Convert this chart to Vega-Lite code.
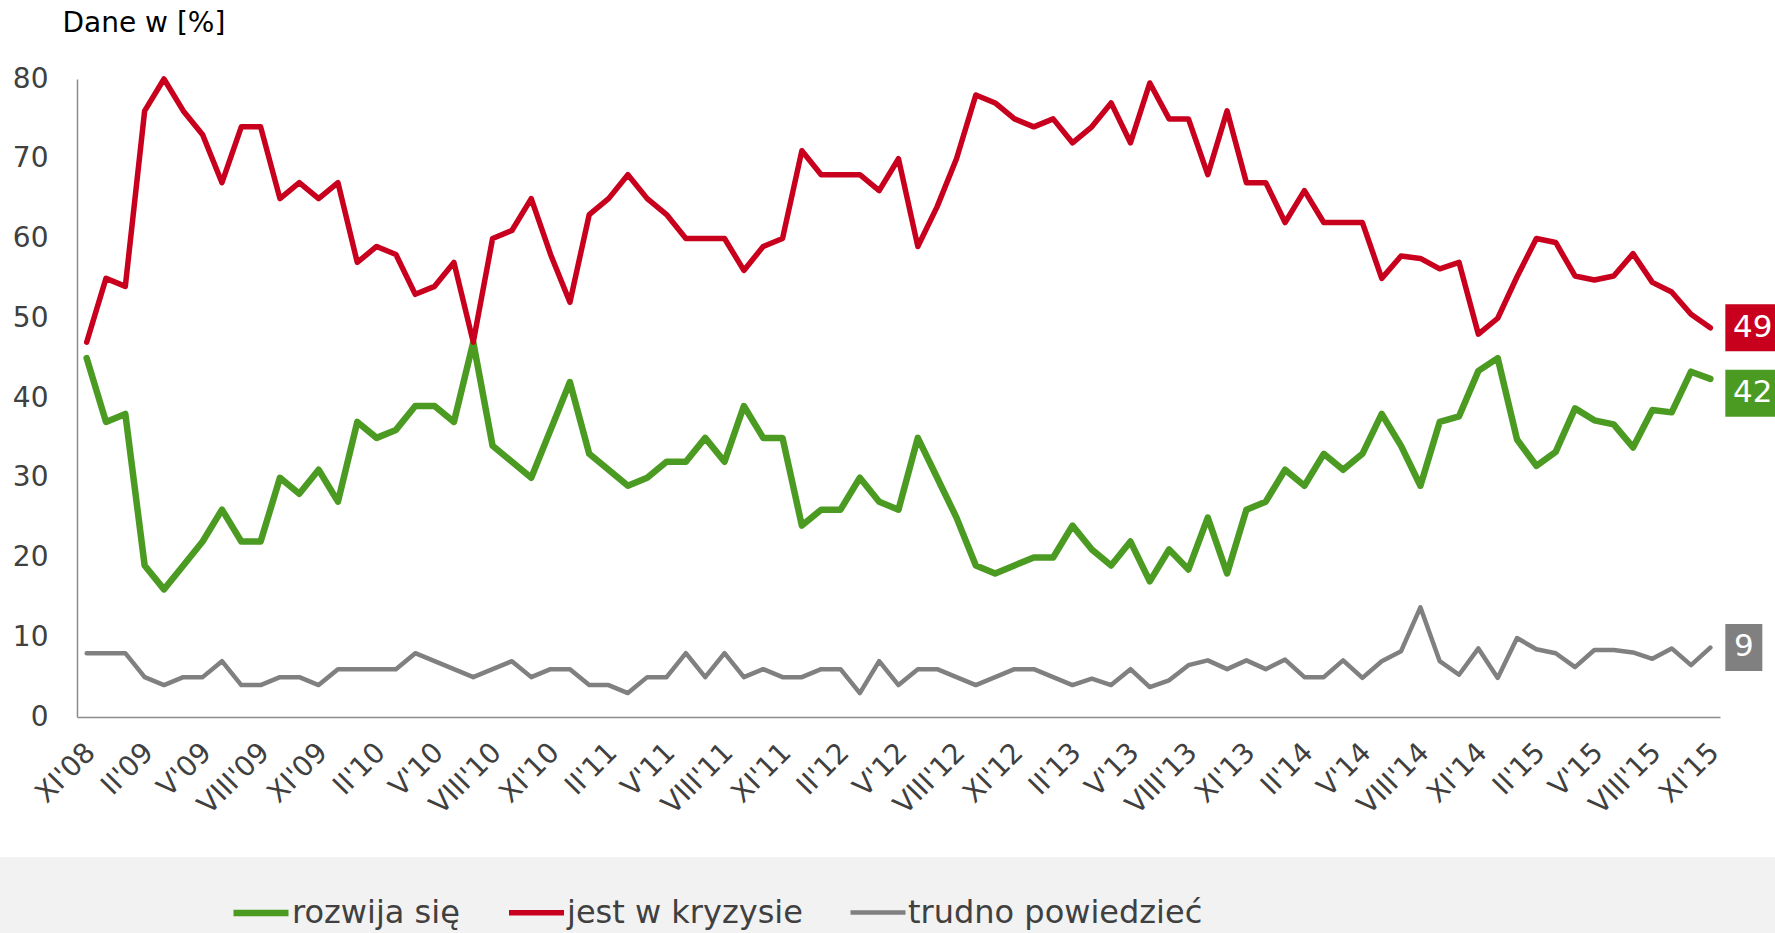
{
  "$schema": "https://vega.github.io/schema/vega-lite/v6.json",
  "width": 1775,
  "height": 857,
  "autosize": {"type": "none"},
  "padding": {"left": 0, "top": 0, "right": 0, "bottom": 76},
  "background": "#f2f2f2",
  "config": {"view": {"fill": "white", "stroke": null}, "font": "DejaVu Sans"},
  "datasets": {
    "series": [
      {"m": "XI'08", "rozwija się": 45, "jest w kryzysie": 47, "trudno powiedzieć": 8},
      {"m": "XII'08", "rozwija się": 37, "jest w kryzysie": 55, "trudno powiedzieć": 8},
      {"m": "I'09", "rozwija się": 38, "jest w kryzysie": 54, "trudno powiedzieć": 8},
      {"m": "II'09", "rozwija się": 19, "jest w kryzysie": 76, "trudno powiedzieć": 5},
      {"m": "III'09", "rozwija się": 16, "jest w kryzysie": 80, "trudno powiedzieć": 4},
      {"m": "IV'09", "rozwija się": 19, "jest w kryzysie": 76, "trudno powiedzieć": 5},
      {"m": "V'09", "rozwija się": 22, "jest w kryzysie": 73, "trudno powiedzieć": 5},
      {"m": "VI'09", "rozwija się": 26, "jest w kryzysie": 67, "trudno powiedzieć": 7},
      {"m": "VII'09", "rozwija się": 22, "jest w kryzysie": 74, "trudno powiedzieć": 4},
      {"m": "VIII'09", "rozwija się": 22, "jest w kryzysie": 74, "trudno powiedzieć": 4},
      {"m": "IX'09", "rozwija się": 30, "jest w kryzysie": 65, "trudno powiedzieć": 5},
      {"m": "X'09", "rozwija się": 28, "jest w kryzysie": 67, "trudno powiedzieć": 5},
      {"m": "XI'09", "rozwija się": 31, "jest w kryzysie": 65, "trudno powiedzieć": 4},
      {"m": "XII'09", "rozwija się": 27, "jest w kryzysie": 67, "trudno powiedzieć": 6},
      {"m": "I'10", "rozwija się": 37, "jest w kryzysie": 57, "trudno powiedzieć": 6},
      {"m": "II'10", "rozwija się": 35, "jest w kryzysie": 59, "trudno powiedzieć": 6},
      {"m": "III'10", "rozwija się": 36, "jest w kryzysie": 58, "trudno powiedzieć": 6},
      {"m": "IV'10", "rozwija się": 39, "jest w kryzysie": 53, "trudno powiedzieć": 8},
      {"m": "V'10", "rozwija się": 39, "jest w kryzysie": 54, "trudno powiedzieć": 7},
      {"m": "VI'10", "rozwija się": 37, "jest w kryzysie": 57, "trudno powiedzieć": 6},
      {"m": "VII'10", "rozwija się": 47, "jest w kryzysie": 47, "trudno powiedzieć": 5},
      {"m": "VIII'10", "rozwija się": 34, "jest w kryzysie": 60, "trudno powiedzieć": 6},
      {"m": "IX'10", "rozwija się": 32, "jest w kryzysie": 61, "trudno powiedzieć": 7},
      {"m": "X'10", "rozwija się": 30, "jest w kryzysie": 65, "trudno powiedzieć": 5},
      {"m": "XI'10", "rozwija się": 36, "jest w kryzysie": 58, "trudno powiedzieć": 6},
      {"m": "XII'10", "rozwija się": 42, "jest w kryzysie": 52, "trudno powiedzieć": 6},
      {"m": "I'11", "rozwija się": 33, "jest w kryzysie": 63, "trudno powiedzieć": 4},
      {"m": "II'11", "rozwija się": 31, "jest w kryzysie": 65, "trudno powiedzieć": 4},
      {"m": "III'11", "rozwija się": 29, "jest w kryzysie": 68, "trudno powiedzieć": 3},
      {"m": "IV'11", "rozwija się": 30, "jest w kryzysie": 65, "trudno powiedzieć": 5},
      {"m": "V'11", "rozwija się": 32, "jest w kryzysie": 63, "trudno powiedzieć": 5},
      {"m": "VI'11", "rozwija się": 32, "jest w kryzysie": 60, "trudno powiedzieć": 8},
      {"m": "VII'11", "rozwija się": 35, "jest w kryzysie": 60, "trudno powiedzieć": 5},
      {"m": "VIII'11", "rozwija się": 32, "jest w kryzysie": 60, "trudno powiedzieć": 8},
      {"m": "IX'11", "rozwija się": 39, "jest w kryzysie": 56, "trudno powiedzieć": 5},
      {"m": "X'11", "rozwija się": 35, "jest w kryzysie": 59, "trudno powiedzieć": 6},
      {"m": "XI'11", "rozwija się": 35, "jest w kryzysie": 60, "trudno powiedzieć": 5},
      {"m": "XII'11", "rozwija się": 24, "jest w kryzysie": 71, "trudno powiedzieć": 5},
      {"m": "I'12", "rozwija się": 26, "jest w kryzysie": 68, "trudno powiedzieć": 6},
      {"m": "II'12", "rozwija się": 26, "jest w kryzysie": 68, "trudno powiedzieć": 6},
      {"m": "III'12", "rozwija się": 30, "jest w kryzysie": 68, "trudno powiedzieć": 3},
      {"m": "IV'12", "rozwija się": 27, "jest w kryzysie": 66, "trudno powiedzieć": 7},
      {"m": "V'12", "rozwija się": 26, "jest w kryzysie": 70, "trudno powiedzieć": 4},
      {"m": "VI'12", "rozwija się": 35, "jest w kryzysie": 59, "trudno powiedzieć": 6},
      {"m": "VII'12", "rozwija się": 30, "jest w kryzysie": 64, "trudno powiedzieć": 6},
      {"m": "VIII'12", "rozwija się": 25, "jest w kryzysie": 70, "trudno powiedzieć": 5},
      {"m": "IX'12", "rozwija się": 19, "jest w kryzysie": 78, "trudno powiedzieć": 4},
      {"m": "X'12", "rozwija się": 18, "jest w kryzysie": 77, "trudno powiedzieć": 5},
      {"m": "XI'12", "rozwija się": 19, "jest w kryzysie": 75, "trudno powiedzieć": 6},
      {"m": "XII'12", "rozwija się": 20, "jest w kryzysie": 74, "trudno powiedzieć": 6},
      {"m": "I'13", "rozwija się": 20, "jest w kryzysie": 75, "trudno powiedzieć": 5},
      {"m": "II'13", "rozwija się": 24, "jest w kryzysie": 72, "trudno powiedzieć": 4},
      {"m": "III'13", "rozwija się": 21, "jest w kryzysie": 74, "trudno powiedzieć": 4.8},
      {"m": "IV'13", "rozwija się": 19, "jest w kryzysie": 77, "trudno powiedzieć": 4},
      {"m": "V'13", "rozwija się": 22, "jest w kryzysie": 72, "trudno powiedzieć": 6},
      {"m": "VI'13", "rozwija się": 17, "jest w kryzysie": 79.5, "trudno powiedzieć": 3.75},
      {"m": "VII'13", "rozwija się": 21, "jest w kryzysie": 75, "trudno powiedzieć": 4.6},
      {"m": "VIII'13", "rozwija się": 18.5, "jest w kryzysie": 75, "trudno powiedzieć": 6.5},
      {"m": "IX'13", "rozwija się": 25, "jest w kryzysie": 68, "trudno powiedzieć": 7.1},
      {"m": "X'13", "rozwija się": 18, "jest w kryzysie": 76, "trudno powiedzieć": 6},
      {"m": "XI'13", "rozwija się": 26, "jest w kryzysie": 67, "trudno powiedzieć": 7.1},
      {"m": "XII'13", "rozwija się": 27, "jest w kryzysie": 67, "trudno powiedzieć": 6},
      {"m": "I'14", "rozwija się": 31, "jest w kryzysie": 62, "trudno powiedzieć": 7.2},
      {"m": "II'14", "rozwija się": 29, "jest w kryzysie": 66, "trudno powiedzieć": 5},
      {"m": "III'14", "rozwija się": 33, "jest w kryzysie": 62, "trudno powiedzieć": 5},
      {"m": "IV'14", "rozwija się": 31, "jest w kryzysie": 62, "trudno powiedzieć": 7.1},
      {"m": "V'14", "rozwija się": 33, "jest w kryzysie": 62, "trudno powiedzieć": 4.9},
      {"m": "VI'14", "rozwija się": 38, "jest w kryzysie": 55, "trudno powiedzieć": 7},
      {"m": "VII'14", "rozwija się": 34, "jest w kryzysie": 57.8, "trudno powiedzieć": 8.25},
      {"m": "VIII'14", "rozwija się": 29, "jest w kryzysie": 57.5, "trudno powiedzieć": 13.75},
      {"m": "IX'14", "rozwija się": 37, "jest w kryzysie": 56.2, "trudno powiedzieć": 7},
      {"m": "X'14", "rozwija się": 37.7, "jest w kryzysie": 57, "trudno powiedzieć": 5.3},
      {"m": "XI'14", "rozwija się": 43.4, "jest w kryzysie": 48, "trudno powiedzieć": 8.6},
      {"m": "XII'14", "rozwija się": 45, "jest w kryzysie": 50, "trudno powiedzieć": 4.9},
      {"m": "I'15", "rozwija się": 34.8, "jest w kryzysie": 55.2, "trudno powiedzieć": 9.9},
      {"m": "II'15", "rozwija się": 31.5, "jest w kryzysie": 60, "trudno powiedzieć": 8.5},
      {"m": "III'15", "rozwija się": 33.25, "jest w kryzysie": 59.5, "trudno powiedzieć": 8},
      {"m": "IV'15", "rozwija się": 38.7, "jest w kryzysie": 55.3, "trudno powiedzieć": 6.25},
      {"m": "V'15", "rozwija się": 37.2, "jest w kryzysie": 54.8, "trudno powiedzieć": 8.4},
      {"m": "VI'15", "rozwija się": 36.7, "jest w kryzysie": 55.3, "trudno powiedzieć": 8.4},
      {"m": "VII'15", "rozwija się": 33.8, "jest w kryzysie": 58.1, "trudno powiedzieć": 8.1},
      {"m": "VIII'15", "rozwija się": 38.5, "jest w kryzysie": 54.5, "trudno powiedzieć": 7.3},
      {"m": "IX'15", "rozwija się": 38.2, "jest w kryzysie": 53.3, "trudno powiedzieć": 8.6},
      {"m": "X'15", "rozwija się": 43.3, "jest w kryzysie": 50.5, "trudno powiedzieć": 6.5},
      {"m": "XI'15", "rozwija się": 42.4, "jest w kryzysie": 48.8, "trudno powiedzieć": 8.7}
    ],
    "labels": [
      {"m": "XI'15", "s": "rozwija się", "lab": "42", "pos": 40.6},
      {"m": "XI'15", "s": "jest w kryzysie", "lab": "49", "pos": 48.8},
      {"m": "XI'15", "s": "trudno powiedzieć", "lab": "9", "pos": 8.73}
    ]
  },
  "layer": [
    {
      "data": {"name": "series"},
      "transform": [{"fold": ["rozwija się", "jest w kryzysie", "trudno powiedzieć"], "as": ["s", "v"]}],
      "mark": {"type": "line", "strokeCap": "round", "strokeJoin": "round"},
      "encoding": {
        "x": {
          "field": "m", "type": "ordinal", "sort": null,
          "scale": {"type": "point", "range": [77, 1720], "padding": 0.5},
          "axis": {
            "values": ["XI'08","II'09","V'09","VIII'09","XI'09","II'10","V'10","VIII'10","XI'10","II'11","V'11","VIII'11","XI'11","II'12","V'12","VIII'12","XI'12","II'13","V'13","VIII'13","XI'13","II'14","V'14","VIII'14","XI'14","II'15","V'15","VIII'15","XI'15"],
            "title": null, "offset": -140, "ticks": false, "tickSize": 0, "grid": false,
            "labelAngle": -45, "labelAlign": "right", "labelBaseline": "middle", "labelPadding": 31, "labelOffset": 4,
            "labelFontSize": 28, "labelColor": "#404040", "labelOverlap": false, "labelBound": false,
            "domainColor": "#8c8c8c", "domainWidth": 1.5
          }
        },
        "y": {
          "field": "v", "type": "quantitative",
          "scale": {"domain": [0, 80], "range": [717, 79], "nice": false},
          "axis": {
            "values": [0, 10, 20, 30, 40, 50, 60, 70, 80],
            "title": "Dane w [%]", "titleAngle": 0, "titleAlign": "left", "titleBaseline": "middle",
            "titleX": -15, "titleY": 23, "titleFontSize": 28, "titleFontWeight": "normal", "titleColor": "#000000",
            "offset": -77, "ticks": false, "tickSize": 0, "grid": false,
            "labelPadding": 29, "labelFontSize": 28, "labelColor": "#404040",
            "domainColor": "#8c8c8c", "domainWidth": 1.5
          }
        },
        "color": {
          "field": "s", "type": "nominal",
          "scale": {"domain": ["rozwija się", "jest w kryzysie", "trudno powiedzieć"], "range": ["#4b9b23", "#c8001e", "#808080"]},
          "legend": {
            "orient": "none", "legendX": 230, "legendY": 882, "direction": "horizontal", "title": null,
            "symbolType": "stroke", "symbolSize": 3025, "symbolStrokeWidth": 7,
            "labelFontSize": 32, "labelColor": "#404040", "labelOffset": 0, "labelLimit": 500, "columnPadding": 38, "padding": 0
          }
        },
        "strokeWidth": {
          "field": "s", "type": "nominal",
          "scale": {"domain": ["rozwija się", "jest w kryzysie", "trudno powiedzieć"], "range": [6.5, 4.5, 4.5]},
          "legend": null
        }
      }
    },
    {
      "data": {"name": "labels"},
      "transform": [{"filter": "datum.s !== 'trudno powiedzieć'"}],
      "mark": {"type": "rect", "width": 55, "height": 47, "xOffset": 42.5},
      "encoding": {
        "x": {"field": "m", "type": "ordinal", "sort": null},
        "y": {"field": "pos", "type": "quantitative"},
        "fill": {"field": "s", "type": "nominal", "scale": {"domain": ["rozwija się", "jest w kryzysie", "trudno powiedzieć"], "range": ["#4b9b23", "#c8001e", "#808080"]}, "legend": null}
      }
    },
    {
      "data": {"name": "labels"},
      "transform": [{"filter": "datum.s === 'trudno powiedzieć'"}],
      "mark": {"type": "rect", "width": 37, "height": 47, "xOffset": 33.5},
      "encoding": {
        "x": {"field": "m", "type": "ordinal", "sort": null},
        "y": {"field": "pos", "type": "quantitative"},
        "fill": {"field": "s", "type": "nominal", "legend": null}
      }
    },
    {
      "data": {"name": "labels"},
      "transform": [{"filter": "datum.s !== 'trudno powiedzieć'"}],
      "mark": {"type": "text", "color": "white", "fontSize": 31, "align": "center", "baseline": "middle", "xOffset": 42.5},
      "encoding": {
        "x": {"field": "m", "type": "ordinal", "sort": null},
        "y": {"field": "pos", "type": "quantitative"},
        "text": {"field": "lab"}
      }
    },
    {
      "data": {"name": "labels"},
      "transform": [{"filter": "datum.s === 'trudno powiedzieć'"}],
      "mark": {"type": "text", "color": "white", "fontSize": 31, "align": "center", "baseline": "middle", "xOffset": 33.5},
      "encoding": {
        "x": {"field": "m", "type": "ordinal", "sort": null},
        "y": {"field": "pos", "type": "quantitative"},
        "text": {"field": "lab"}
      }
    }
  ]
}
